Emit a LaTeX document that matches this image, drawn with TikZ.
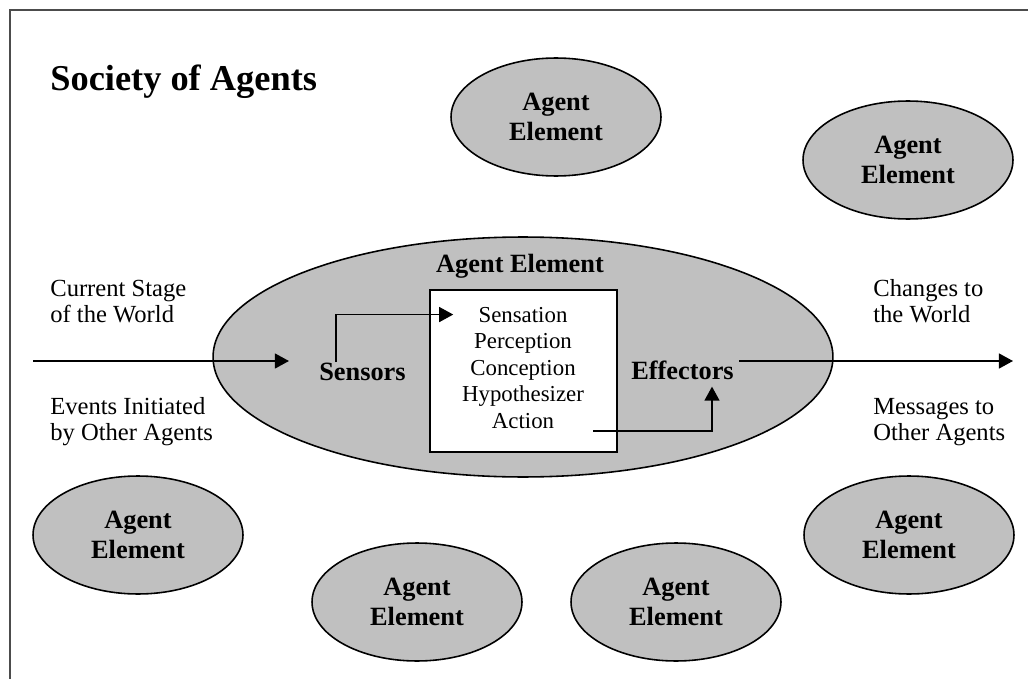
\documentclass[tikz,border=0pt]{standalone}
\usepackage{fontspec}
\setmainfont{Liberation Serif}
\usepackage{xcolor}
\usetikzlibrary{shapes.geometric, positioning, arrows.meta}
\definecolor{agentgrey}{HTML}{C0C0C0}
\newcommand\lblfont{\fontsize{15}{17}\selectfont\bfseries}
\newcommand\procfont{\fontsize{13}{15}\selectfont}
\newcommand\sidefont{\fontsize{14}{16}\selectfont}

\begin{document}
\begin{tikzpicture}[x=0.02cm,y=-0.02cm,
    agent/.style={ellipse,draw,line width=0.9pt,fill=agentgrey,minimum width=4.2cm,minimum height=2.36cm,inner sep=0pt,align=center,font=\lblfont},
    flow/.style={line width=0.9pt,-{Triangle[length=8pt,width=8.5pt]}},
    txt/.style={inner sep=0pt}]
  \useasboundingbox (0,0) rectangle (1028,679);
  % frame
  \draw[line width=1.1pt,black!70] (10,679) -- (10,10) -- (1028,10);
  \node[txt,anchor=base west,font=\fontsize{20.7}{24}\selectfont\bfseries] (title) at (50,91) {Society of Agents};

  % the element in the middle
  \node[ellipse,draw,line width=0.9pt,fill=agentgrey,minimum width=12.4cm,minimum height=4.8cm] (world) at (523,357) {};
  \node[txt,anchor=base,font=\lblfont] (mainlbl) at (520,272) {Agent Element};
  \node[draw,line width=0.9pt,fill=white,minimum width=3.74cm,minimum height=3.24cm] (core) at (523.5,371) {};
  \foreach \stage [count=\i] in {Sensation,Perception,Conception,Hypothesizer,Action}
    \node[txt,anchor=base,font=\procfont] (ln\i) at (523,295.5+26.5*\i) {\stage};
  \node[txt,anchor=base,font=\lblfont] (sensors) at (362.5,380) {Sensors};
  \node[txt,anchor=base,font=\lblfont] (effectors) at (682.5,379) {Effectors};

  % the other elements
  \node[agent] (ag1) at (556,117) {Agent\\Element};
  \node[agent] (ag2) at (908,160) {Agent\\Element};
  \node[agent] (ag3) at (138,535) {Agent\\Element};
  \node[agent] (ag4) at (417,602) {Agent\\Element};
  \node[agent] (ag5) at (676,602) {Agent\\Element};
  \node[agent] (ag6) at (909,535) {Agent\\Element};

  % inputs and outputs
  \node[txt,anchor=base west,font=\sidefont] (inA) at (50,296) {Current Stage};
  \node[txt,anchor=base west,font=\sidefont] (inB) at (50,322) {of the World};
  \node[txt,anchor=base west,font=\sidefont] (inC) at (50,414) {Events Initiated};
  \node[txt,anchor=base west,font=\sidefont] (inD) at (50,440) {by Other Agents};
  \node[txt,anchor=base west,font=\sidefont] (outA) at (873,296) {Changes to};
  \node[txt,anchor=base west,font=\sidefont] (outB) at (873,322) {the World};
  \node[txt,anchor=base west,font=\sidefont] (outC) at (873,414) {Messages to};
  \node[txt,anchor=base west,font=\sidefont] (outD) at (873,440) {Other Agents};

  \coordinate (src) at (33,361);
  \coordinate (snk) at (1013,361);
  \draw[flow,shorten >=0.6cm] (src) -- (src -| sensors.west);
  \draw[flow,shorten <=0.1cm] (effectors.east |- snk) -- (snk);
  \draw[flow] ([xshift=0.34cm]sensors.north west) |- ([xshift=-0.5cm]ln1.west);
  \draw[flow,shorten >=0.14cm] ([xshift=0.78cm,yshift=-0.06cm]ln5.base east) -| ([xshift=0.59cm]effectors.south);
\end{tikzpicture}
\end{document}
